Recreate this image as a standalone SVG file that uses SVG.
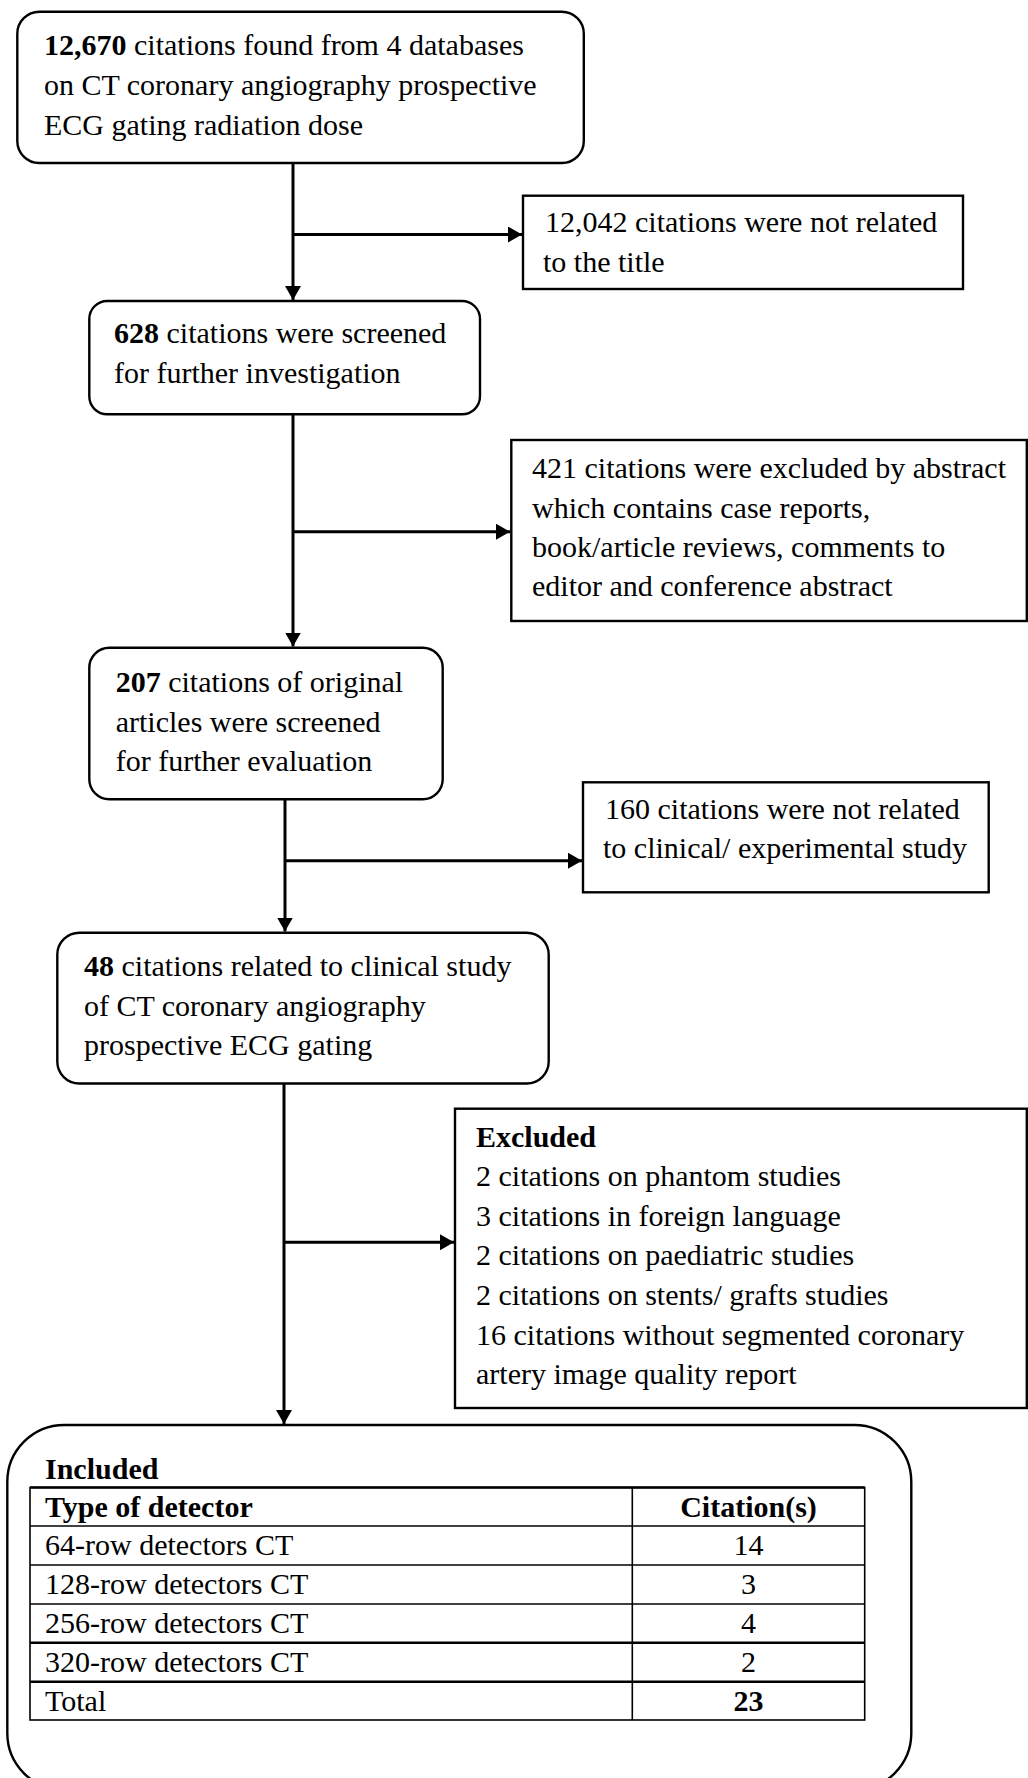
<svg xmlns="http://www.w3.org/2000/svg" width="1028" height="1778" viewBox="0 0 1028 1778">
<style>
text{font-family:"Liberation Serif","Times New Roman",serif;font-size:30px;fill:#000}
.b{font-weight:bold}
.box{fill:#fff;stroke:#000;stroke-width:2.4}
.con{fill:none;stroke:#000;stroke-width:3}
.tl{stroke:#000;stroke-width:1.6;fill:none}
.tk{stroke:#000;stroke-width:2.6;fill:none}
.mid{text-anchor:middle}
</style>
<defs>
<marker id="ah" markerUnits="userSpaceOnUse" markerWidth="14" markerHeight="16" viewBox="0 0 14 16" refX="14" refY="8" orient="auto">
<path d="M0,0 L14,8 L0,16 z" fill="#000"/>
</marker>
</defs>
<rect width="1028" height="1778" fill="#fff"/>
<g id="connectors">
<path class="con" d="M293,163 V300" marker-end="url(#ah)"/>
<path class="con" d="M293,234.5 H522" marker-end="url(#ah)"/>
<path class="con" d="M293,414 V646.5" marker-end="url(#ah)"/>
<path class="con" d="M293,531.7 H510" marker-end="url(#ah)"/>
<path class="con" d="M285,799 V931.5" marker-end="url(#ah)"/>
<path class="con" d="M285,860.7 H582" marker-end="url(#ah)"/>
<path class="con" d="M284,1083.5 V1424" marker-end="url(#ah)"/>
<path class="con" d="M284,1242.3 H454" marker-end="url(#ah)"/>
</g>
<g id="n1">
<rect class="box" x="17.3" y="11.7" width="566.5" height="151.3" rx="22"/>
<text x="44" y="55"><tspan class="b">12,670</tspan> citations found from 4 databases</text>
<text x="44" y="95">on CT coronary angiography prospective</text>
<text x="44" y="135">ECG gating radiation dose</text>
</g>
<g id="n2">
<rect class="box" x="523" y="195.7" width="440" height="93.3"/>
<text x="545" y="231.7">12,042 citations were not related</text>
<text x="543" y="271.7">to the title</text>
</g>
<g id="n3">
<rect class="box" x="89.3" y="301" width="390.7" height="113.3" rx="18"/>
<text x="114" y="343.3"><tspan class="b">628</tspan> citations were screened</text>
<text x="114" y="382.7">for further investigation</text>
</g>
<g id="n4">
<rect class="box" x="511.3" y="440" width="515.5" height="181"/>
<text x="532" y="478.3">421 citations were excluded by abstract</text>
<text x="532" y="518.3">which contains case reports,</text>
<text x="532" y="557.3">book/article reviews, comments to</text>
<text x="532" y="596">editor and conference abstract</text>
</g>
<g id="n5">
<rect class="box" x="89.3" y="647.7" width="353.4" height="151.6" rx="20"/>
<text x="115.7" y="691.7"><tspan class="b">207</tspan> citations of original</text>
<text x="115.7" y="731.7">articles were screened</text>
<text x="115.7" y="770.7">for further evaluation</text>
</g>
<g id="n6">
<rect class="box" x="583" y="782.3" width="405.7" height="110"/>
<text x="605" y="819">160 citations were not related</text>
<text x="603" y="858.3">to clinical/ experimental study</text>
</g>
<g id="n7">
<rect class="box" x="57.3" y="932.7" width="491.4" height="150.8" rx="22"/>
<text x="84" y="976"><tspan class="b">48</tspan> citations related to clinical study</text>
<text x="84" y="1016">of CT coronary angiography</text>
<text x="84" y="1055">prospective ECG gating</text>
</g>
<g id="n8">
<rect class="box" x="455" y="1108.7" width="571.8" height="299.3"/>
<text class="b" x="476" y="1146.7">Excluded</text>
<text x="476" y="1186">2 citations on phantom studies</text>
<text x="476" y="1225.5">3 citations in foreign language</text>
<text x="476" y="1265">2 citations on paediatric studies</text>
<text x="476" y="1304.5">2 citations on stents/ grafts studies</text>
<text x="476" y="1344.5">16 citations without segmented coronary</text>
<text x="476" y="1384">artery image quality report</text>
</g>
<g id="n9">
<rect class="box" x="7.3" y="1425" width="904" height="365" rx="57"/>
<text class="b" x="45" y="1479">Included</text>
<rect class="tl" x="30" y="1487.5" width="834.7" height="232.5"/>
<line class="tk" x1="30" y1="1487.5" x2="864.7" y2="1487.5"/>
<line class="tl" x1="632.3" y1="1487.5" x2="632.3" y2="1720"/>
<line class="tl" x1="30" y1="1526" x2="864.7" y2="1526"/>
<line class="tl" x1="30" y1="1565" x2="864.7" y2="1565"/>
<line class="tl" x1="30" y1="1604" x2="864.7" y2="1604"/>
<line class="tk" x1="30" y1="1642.7" x2="864.7" y2="1642.7"/>
<line class="tk" x1="30" y1="1681.7" x2="864.7" y2="1681.7"/>
<text class="b" x="45" y="1517">Type of detector</text>
<text class="b mid" x="748.5" y="1517">Citation(s)</text>
<text x="45" y="1555">64-row detectors CT</text>
<text class="mid" x="748.5" y="1555">14</text>
<text x="45" y="1594">128-row detectors CT</text>
<text class="mid" x="748.5" y="1594">3</text>
<text x="45" y="1633">256-row detectors CT</text>
<text class="mid" x="748.5" y="1633">4</text>
<text x="45" y="1672">320-row detectors CT</text>
<text class="mid" x="748.5" y="1672">2</text>
<text x="45" y="1711">Total</text>
<text class="b mid" x="748.5" y="1711">23</text>
</g>
</svg>
